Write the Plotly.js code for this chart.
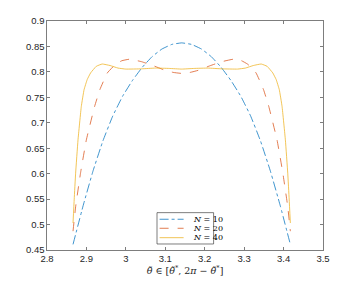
<!DOCTYPE html>
<html>
<head>
<meta charset="utf-8">
<script src="https://cdn.plot.ly/plotly-3.0.1.min.js"></script>
<style>html,body{margin:0;padding:0;background:#fff;}#chart{width:357px;height:282px;}</style>
</head>
<body>
<div id="chart"></div>
<script>
// N = 10
const x10 = [2.8660, 2.8916, 2.9166, 2.9416, 2.9666, 2.9916, 3.0166, 3.0416, 3.0666, 3.0916, 3.1166, 3.1416,
             3.1666, 3.1916, 3.2166, 3.2416, 3.2666, 3.2916, 3.3166, 3.3416, 3.3666, 3.3916, 3.4172];
const y10 = [0.461, 0.537, 0.605, 0.664, 0.713, 0.752, 0.783, 0.809, 0.830, 0.845, 0.854, 0.857,
             0.854, 0.845, 0.830, 0.809, 0.783, 0.752, 0.713, 0.664, 0.605, 0.537, 0.461];
// N = 20
const x20 = [2.8660, 2.8726, 2.8850, 2.8997, 2.9207, 2.9340, 2.9530, 2.9740, 2.9900, 3.0100, 3.0400, 3.0700, 3.1000, 3.1200, 3.1416,
             3.1632, 3.1832, 3.2132, 3.2432, 3.2732, 3.2932, 3.3092, 3.3302, 3.3492, 3.3625, 3.3835, 3.3982, 3.4106, 3.4172];
const y20 = [0.487, 0.535, 0.601, 0.666, 0.732, 0.765, 0.798, 0.815, 0.822, 0.825, 0.820, 0.812, 0.803, 0.799, 0.797,
             0.799, 0.803, 0.812, 0.820, 0.825, 0.822, 0.815, 0.798, 0.765, 0.732, 0.666, 0.601, 0.535, 0.487];
// N = 40
const x40 = [2.8660, 2.8690, 2.8726, 2.8786, 2.8870, 2.8940, 2.9020, 2.9106, 2.9250, 2.9400, 2.9600, 2.9800, 3.0000, 3.0400, 3.0750, 3.1100, 3.1416,
             3.1732, 3.2082, 3.2432, 3.2832, 3.3032, 3.3232, 3.3432, 3.3582, 3.3726, 3.3812, 3.3892, 3.3962, 3.4046, 3.4106, 3.4142, 3.4172];
const y40 = [0.503, 0.550, 0.601, 0.666, 0.732, 0.765, 0.785, 0.798, 0.811, 0.8155, 0.8125, 0.8075, 0.8055, 0.806, 0.8075, 0.8068, 0.8055,
             0.8068, 0.8075, 0.806, 0.8055, 0.8075, 0.8125, 0.8155, 0.811, 0.798, 0.785, 0.765, 0.732, 0.666, 0.601, 0.550, 0.503];

const seriesNames = ['<i>N</i> = 10', '<i>N</i> = 20', '<i>N</i> = 40'];
const xTicks = [2.8, 2.9, 3.0, 3.1, 3.2, 3.3, 3.4, 3.5];
const xTickText = ['2.8', '2.9', '3', '3.1', '3.2', '3.3', '3.4', '3.5'];
const yTicks = [0.45, 0.5, 0.55, 0.6, 0.65, 0.7, 0.75, 0.8, 0.85, 0.9];
const yTickText = ['0.45', '0.5', '0.55', '0.6', '0.65', '0.7', '0.75', '0.8', '0.85', '0.9'];

const colors = ['#0072BD', '#D95319', '#EDB120'];
const dashes = ['dashdot', 'dash', 'solid'];
const xs = [x10, x20, x40];
const ys = [y10, y20, y40];

const traces = xs.map((x, i) => ({
  x: x, y: ys[i], type: 'scatter', mode: 'lines', name: seriesNames[i],
  line: {color: colors[i], width: 1, dash: dashes[i], shape: 'spline', smoothing: 0.3},
  opacity: 0.75, showlegend: false
}));

const L = 46.7, R = 322.7, T = 21.3, B = 250;
const px = v => (v - L) / (R - L);
const py = v => (B - v) / (B - T);

const entryY = [219.3, 228.3, 237.7];
const shapes = [{
  type: 'rect', xref: 'paper', yref: 'paper',
  x0: px(156.7), x1: px(213.3), y0: py(244), y1: py(212.7),
  line: {color: '#262626', width: 0.6}, fillcolor: '#ffffff', layer: 'above'
}];
const annotations = [];
entryY.forEach((ey, i) => {
  shapes.push({type: 'line', xref: 'paper', yref: 'paper', x0: px(159.3), x1: px(183.3), y0: py(ey), y1: py(ey),
    line: {color: colors[i], width: 1, dash: dashes[i]}, opacity: 0.75, layer: 'above'});
  annotations.push({xref: 'paper', yref: 'paper', x: px(191), y: py(ey), xanchor: 'left', yanchor: 'middle',
    text: seriesNames[i], showarrow: false, font: {family: 'DejaVu Serif, serif', size: 8, color: '#000'}});
});

const layout = {
  width: 357, height: 282,
  margin: {l: L, r: 357 - R, t: T, b: 282 - B, pad: 0},
  paper_bgcolor: '#fff', plot_bgcolor: '#fff',
  showlegend: false,
  font: {family: 'Liberation Sans, Arial, sans-serif', size: 9.5, color: '#262626'},
  xaxis: {
    range: [2.8, 3.5], tickvals: xTicks, ticktext: xTickText, ticks: 'inside', ticklen: 3, tickwidth: 0.6,
    tickcolor: '#262626', showline: true, linecolor: '#262626', linewidth: 0.6, mirror: 'ticks',
    showgrid: false, zeroline: false,
    title: {text: '<i>θ̃</i> ∈ [<i>θ̃</i><sup>*</sup>, 2<i>π</i> − <i>θ̃</i><sup>*</sup>]', standoff: 4,
      font: {family: 'DejaVu Serif, serif', size: 9.5, color: '#262626'}}
  },
  yaxis: {
    range: [0.45, 0.9], tickvals: yTicks, ticktext: yTickText, ticks: 'inside', ticklen: 3, tickwidth: 0.6,
    tickcolor: '#262626', showline: true, linecolor: '#262626', linewidth: 0.6, mirror: 'ticks',
    showgrid: false, zeroline: false
  },
  shapes: shapes,
  annotations: annotations
};

Plotly.newPlot('chart', traces, layout, {staticPlot: true, displayModeBar: false});
</script>
</body>
</html>
